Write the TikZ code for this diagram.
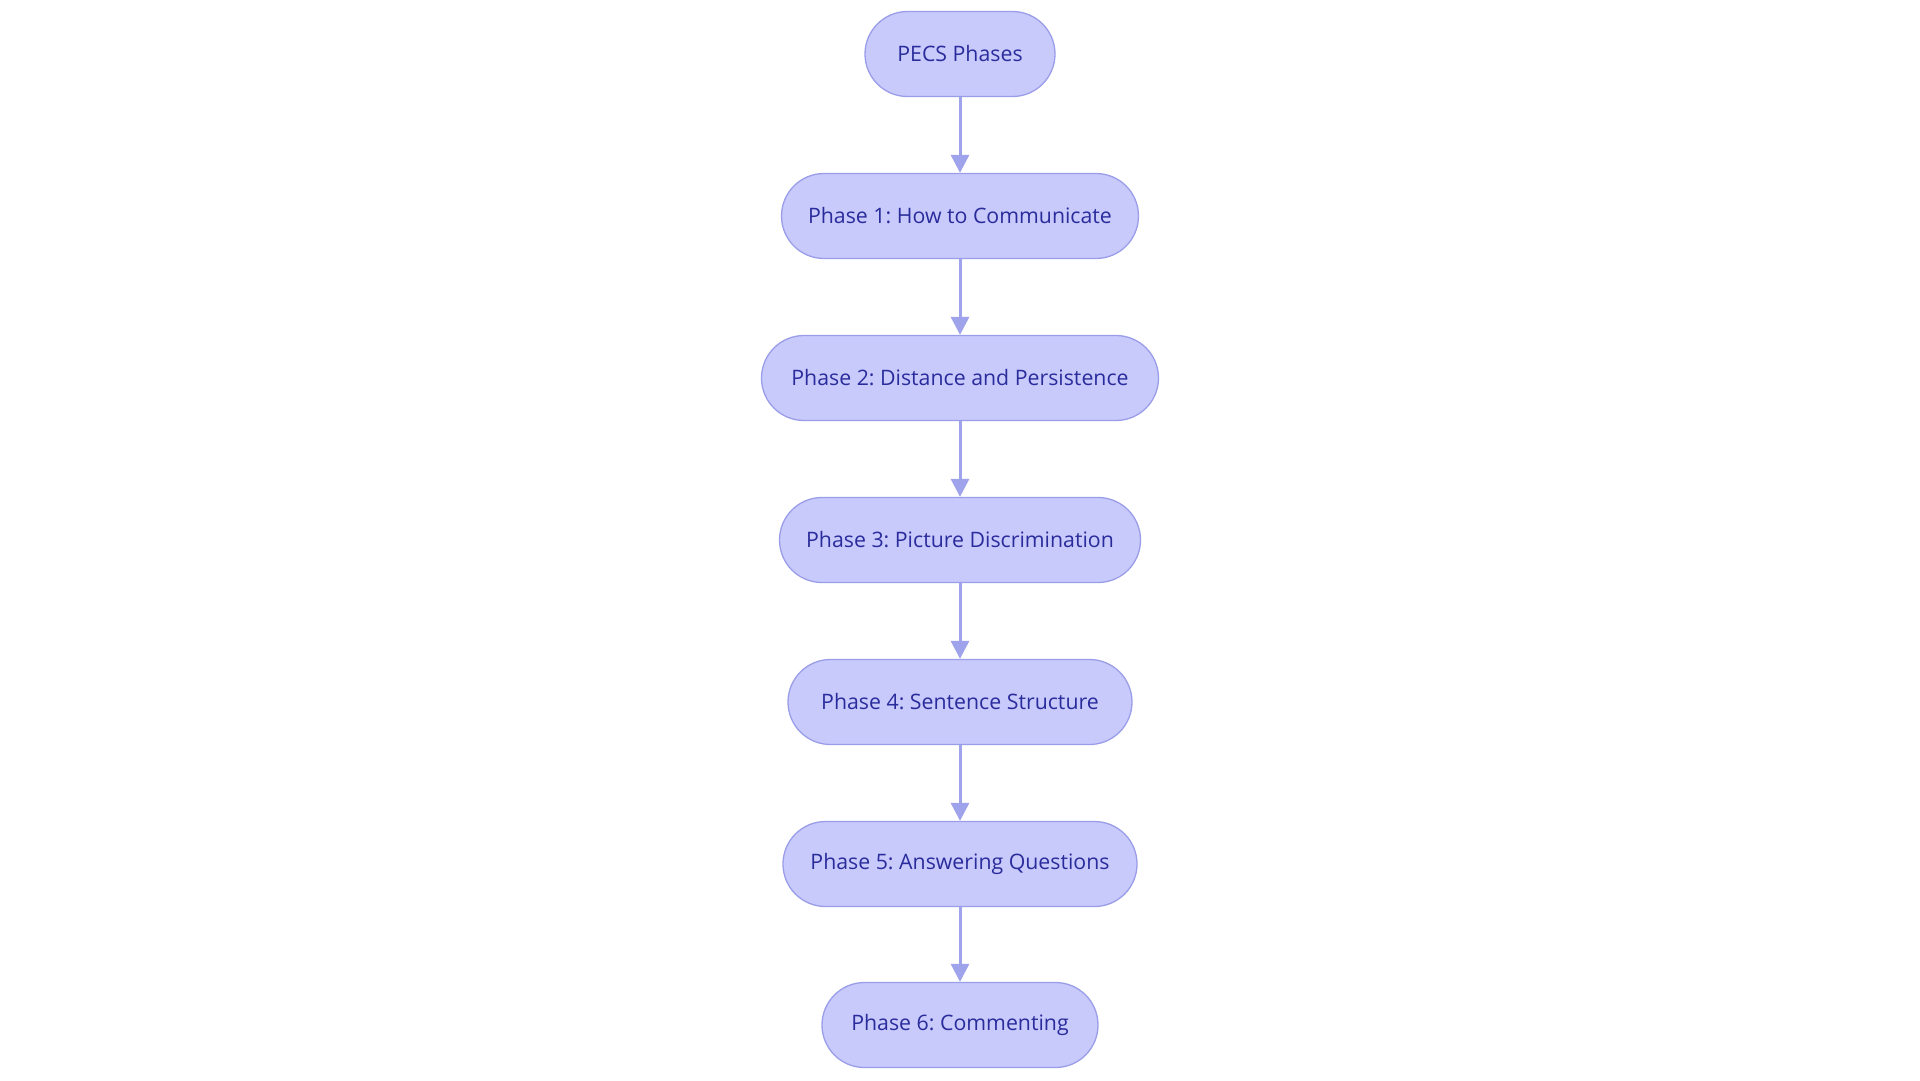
\documentclass[tikz,border=0pt]{standalone}
\usepackage{fontspec}
\setmainfont{Open Sans}
\usetikzlibrary{arrows.meta}
\definecolor{nodefill}{HTML}{C8CAFC}
\definecolor{nodedraw}{HTML}{9A9EE8}
\definecolor{nodetext}{HTML}{2A2C9C}
\definecolor{linkcol}{HTML}{9FA3EC}
\frenchspacing
\tikzset{
  phase/.style={draw=nodedraw, fill=nodefill, line width=1.3pt, rounded corners=42.5pt,
    minimum height=85pt, inner sep=0pt, text=nodetext,
    font=\fontsize{21.3pt}{25pt}\selectfont},
  link/.style={draw=linkcol, line width=3pt, -{Triangle[length=18pt,width=18pt]}}
}
\begin{document}
\begin{tikzpicture}[x=1pt,y=-1pt]
\fill[white] (0,0) rectangle (1920,1080);
\useasboundingbox (0,0) rectangle (1920,1080);
\node[phase, minimum width=190pt] (p0) at (960,54) {PECS Phases};
\node[phase, minimum width=357pt] (p1) at (960,216) {Phase 1: How to Communicate};
\node[phase, minimum width=397pt] (p2) at (960,378) {Phase 2: Distance and Persistence};
\node[phase, minimum width=361pt] (p3) at (960,540) {Phase 3: Picture Discrimination};
\node[phase, minimum width=344pt] (p4) at (960,702) {Phase 4: Sentence Structure};
\node[phase, minimum width=354pt] (p5) at (960,864) {Phase 5: Answering Questions};
\node[phase, minimum width=276pt] (p6) at (960,1025) {Phase 6: Commenting};
\draw[link] (p0) -- (p1);
\draw[link] (p1) -- (p2);
\draw[link] (p2) -- (p3);
\draw[link] (p3) -- (p4);
\draw[link] (p4) -- (p5);
\draw[link] (p5) -- (p6);
\end{tikzpicture}
\end{document}
